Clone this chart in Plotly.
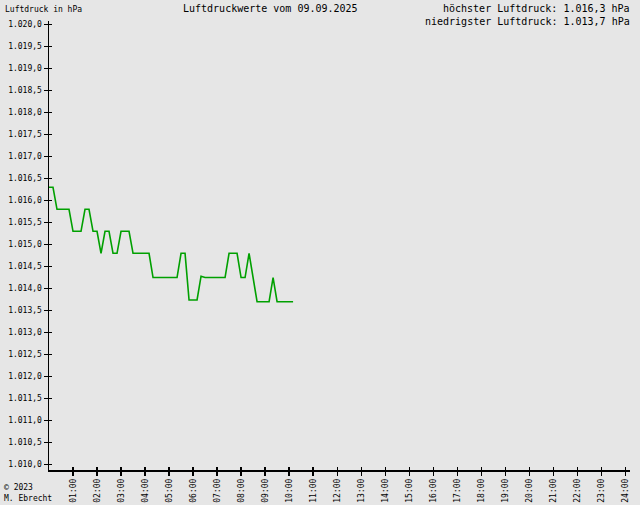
import plotly.graph_objects as go

# ---- data ----
times = ["00:00","00:10","00:20","00:30","00:40","00:50",
         "01:00","01:10","01:20","01:30","01:40","01:50",
         "02:00","02:10","02:20","02:30","02:40","02:50",
         "03:00","03:10","03:20","03:30","03:40","03:50",
         "04:00","04:10","04:20","04:30","04:40","04:50",
         "05:00","05:10","05:20","05:30","05:40","05:50",
         "06:00","06:10","06:20","06:30","06:40","06:50",
         "07:00","07:10","07:20","07:30","07:40","07:50",
         "08:00","08:10","08:20","08:30","08:40","08:50",
         "09:00","09:10","09:20","09:30","09:40","09:50",
         "10:00","10:10"]
pressure = [1016.3,1016.3,1015.8,1015.8,1015.8,1015.8,
            1015.3,1015.3,1015.3,1015.8,1015.8,1015.3,
            1015.3,1014.8,1015.3,1015.3,1014.8,1014.8,
            1015.3,1015.3,1015.3,1014.8,1014.8,1014.8,
            1014.8,1014.8,1014.25,1014.25,1014.25,1014.25,
            1014.25,1014.25,1014.25,1014.8,1014.8,1013.74,
            1013.74,1013.74,1014.28,1014.25,1014.25,1014.25,
            1014.25,1014.25,1014.25,1014.8,1014.8,1014.8,
            1014.25,1014.25,1014.8,1014.25,1013.7,1013.7,
            1013.7,1013.7,1014.25,1013.7,1013.7,1013.7,
            1013.7,1013.7]
hour_ticks = list(range(1, 25))
hour_labels = [f"{h:02d}:00" for h in hour_ticks]
y_ticks = [1010 + 0.5 * i for i in range(21)]

title_text = "Luftdruckwerte vom 09.09.2025"
max_text = "höchster Luftdruck: 1.016,3 hPa"
min_text = "niedrigster Luftdruck: 1.013,7 hPa"

hours = [int(t[:2]) + int(t[3:]) / 60 for t in times]

W, H = 640, 505
L, R, T, B = 49, 10, 21, 35
BG = "#e6e6e6"
MONO = "DejaVu Sans Mono"

def px(x):
    return (x - L) / (W - L - R)

def py(y):
    return (H - B - y) / (H - T - B)

fig = go.Figure()
fig.add_trace(go.Scatter(x=hours, y=pressure, mode="lines",
                         line=dict(color="#00a000", width=1.6),
                         showlegend=False, hoverinfo="skip"))
# invisible trace to activate overlay axes (inside tick halves)
fig.add_trace(go.Scatter(x=[None], y=[None], xaxis="x2", yaxis="y2",
                         showlegend=False, hoverinfo="skip"))

xr = [0, 24.2]
yr = [1009.875, 1020.08]
axis_common = dict(showgrid=False, zeroline=False, showline=True,
                   linecolor="black", linewidth=1.5, tickcolor="black",
                   tickwidth=1.2, ticklen=4, automargin=False)

fig.update_layout(
    width=W, height=H,
    margin=dict(l=L, r=R, t=T, b=B, pad=0, autoexpand=False),
    paper_bgcolor=BG, plot_bgcolor=BG,
    separators=",.",
    font=dict(family=MONO, size=8, color="black"),
    xaxis=dict(range=xr, tickvals=hour_ticks, ticktext=hour_labels,
               tickangle=-90, ticks="outside", tickfont=dict(family=MONO, size=8),
               **axis_common),
    yaxis=dict(range=yr, tickvals=y_ticks, tickformat=",.1f",
               ticks="outside", tickfont=dict(family=MONO, size=8),
               **axis_common),
    xaxis2=dict(range=xr, tickvals=hour_ticks, showticklabels=False,
                ticks="inside", overlaying="x", anchor="y2",
                showgrid=False, zeroline=False, showline=False, automargin=False,
                tickcolor="black", tickwidth=1.2, ticklen=3),
    yaxis2=dict(range=yr, tickvals=y_ticks, showticklabels=False,
                ticks="inside", overlaying="y", anchor="x2",
                showgrid=False, zeroline=False, showline=False, automargin=False,
                tickcolor="black", tickwidth=1.2, ticklen=3),
    annotations=[
        dict(text=title_text, x=px(270), y=py(8), xref="paper", yref="paper",
             xanchor="center", yanchor="middle", showarrow=False,
             font=dict(family=MONO, size=10)),
        dict(text=max_text, x=px(632), y=py(8), xref="paper", yref="paper",
             xanchor="right", yanchor="middle", showarrow=False,
             font=dict(family=MONO, size=10)),
        dict(text=min_text, x=px(632), y=py(22), xref="paper", yref="paper",
             xanchor="right", yanchor="middle", showarrow=False,
             font=dict(family=MONO, size=10)),
        dict(text="Luftdruck in hPa", x=px(3), y=py(9), xref="paper", yref="paper",
             xanchor="left", yanchor="middle", showarrow=False,
             font=dict(family=MONO, size=8)),
        dict(text="© 2023", x=px(2), y=py(487), xref="paper", yref="paper",
             xanchor="left", yanchor="middle", showarrow=False,
             font=dict(family=MONO, size=8)),
        dict(text="M. Ebrecht", x=px(2), y=py(498), xref="paper", yref="paper",
             xanchor="left", yanchor="middle", showarrow=False,
             font=dict(family=MONO, size=8)),
    ],
)

fig.write_html("out.html",
               config={"displayModeBar": False, "staticPlot": True},
               post_script="document.body.style.margin='0';"
                           "document.body.style.overflow='hidden';")
